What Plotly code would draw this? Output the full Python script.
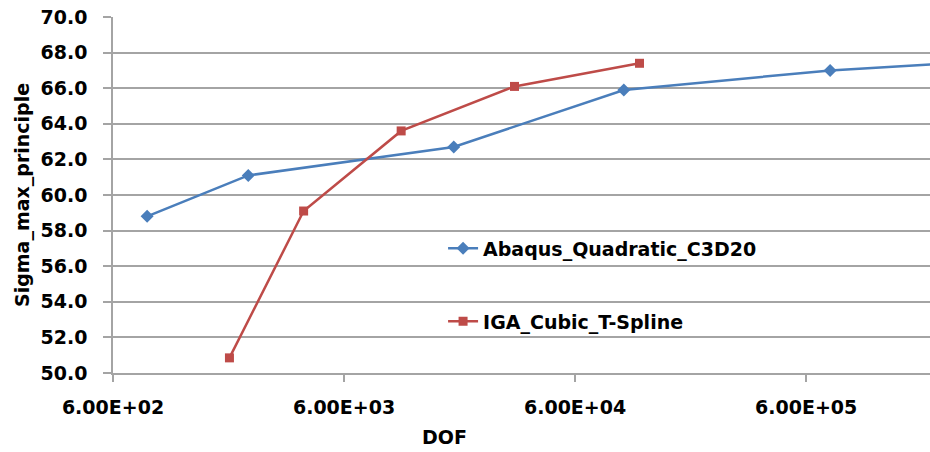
import plotly.graph_objects as go
import numpy as np

# Convergence study: maximum principal stress vs. degrees of freedom
abaqus_dof = [843, 2310, 17900, 97500, 762000, 2500000]
abaqus_sigma = [58.8, 61.1, 62.7, 65.9, 67.0, 67.4]

iga_dof = [1915, 4010, 10600, 32800, 114000]
iga_sigma = [50.85, 59.1, 63.6, 66.1, 67.4]

x_tick_vals = [600, 6000, 60000, 600000]
x_tick_text = ["6.00E+02", "6.00E+03", "6.00E+04", "6.00E+05"]
y_tick_vals = [50, 52, 54, 56, 58, 60, 62, 64, 66, 68, 70]

BLUE = "#4A7EBB"
RED = "#BE4B48"
GRID = "#a4a4a4"
FONT = "DejaVu Sans"

fig = go.Figure()
fig.add_trace(go.Scatter(
    x=abaqus_dof, y=abaqus_sigma, mode="lines+markers",
    name="<b>Abaqus_Quadratic_C3D20</b>",
    line=dict(color=BLUE, width=2.5),
    marker=dict(symbol="diamond", size=10, color=BLUE),
    legend="legend",
))
fig.add_trace(go.Scatter(
    x=iga_dof, y=iga_sigma, mode="lines+markers",
    name="<b>IGA_Cubic_T-Spline</b>",
    line=dict(color=RED, width=2.5),
    marker=dict(symbol="square", size=9, color=RED),
    legend="legend2",
))

x_lo = np.log10(600)
x_hi = x_lo + 3.536

legend_style = dict(
    font=dict(family=FONT, size=19, color="#000000"),
    bgcolor="rgba(0,0,0,0)",
    xanchor="left", yanchor="middle",
    itemwidth=30,
)

fig.update_layout(
    width=930, height=452,
    margin=dict(l=113, r=0, t=17, b=79),
    plot_bgcolor="white", paper_bgcolor="white",
    font=dict(family=FONT, color="#000000"),
    showlegend=True,
    legend=dict(x=0.404, y=0.35, **legend_style),
    legend2=dict(x=0.404, y=0.145, **legend_style),
    xaxis=dict(
        type="log", range=[x_lo, x_hi],
        tickvals=x_tick_vals, ticktext=x_tick_text,
        tickfont=dict(family=FONT, size=19, color="#000000", weight="bold"),
        showgrid=False, zeroline=False,
        showline=True, linecolor=GRID, linewidth=1.5,
        ticks="outside", ticklen=7, tickcolor=GRID, tickwidth=1.5,
        ticklabelstandoff=9,
    ),
    yaxis=dict(
        range=[50, 70], tickvals=y_tick_vals, tickformat=".1f",
        tickfont=dict(family=FONT, size=19, color="#000000", weight="bold"),
        showgrid=True, gridcolor=GRID, gridwidth=1.5, zeroline=False,
        showline=True, linecolor=GRID, linewidth=1.5,
        ticks="outside", ticklen=8, tickcolor=GRID, tickwidth=1.5,
        ticklabelstandoff=12,
    ),
    annotations=[
        dict(text="<b>DOF</b>", xref="paper", yref="paper",
             x=(444 - 113) / 817, y=-0.181, xanchor="center", yanchor="middle",
             showarrow=False, font=dict(family=FONT, size=19, color="#000000")),
        dict(text="<b>Sigma_max_principle</b>", xref="paper", yref="paper",
             x=(22 - 113) / 817, y=0.5, xanchor="center", yanchor="middle",
             textangle=-90, showarrow=False,
             font=dict(family=FONT, size=19, color="#000000")),
    ],
)

fig.write_html("out.html")
